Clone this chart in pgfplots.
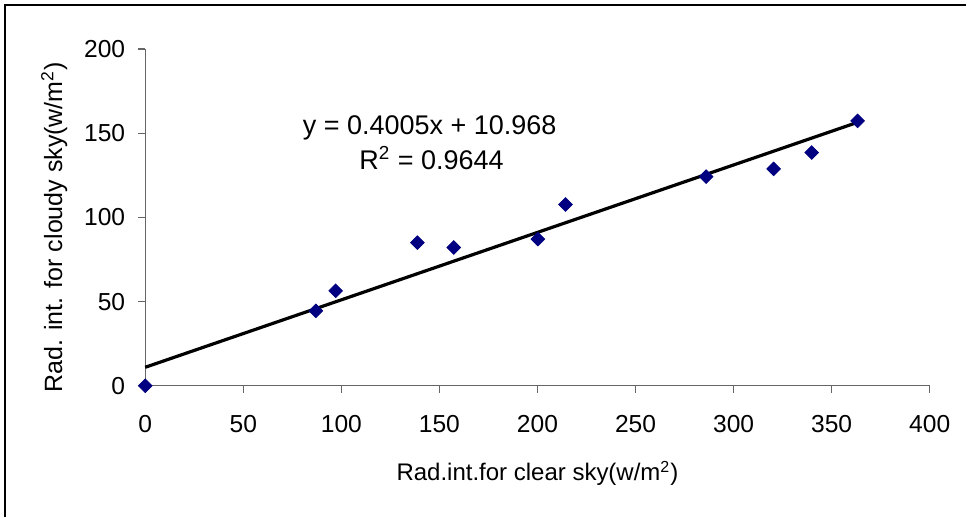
\documentclass[border=0pt]{standalone}
\usepackage{pgfplots}
\pgfplotsset{compat=1.18}
\usepackage{fontspec}
\setmainfont{Liberation Sans}
\definecolor{navy}{RGB}{0,0,128}
\begin{document}
\begin{tikzpicture}
\begin{axis}[
  at={(0,0)}, anchor=south west,
  scale only axis,
  width=392.5pt, height=168.5pt,
  xmin=0, xmax=400, ymin=0, ymax=200,
  xtick={0,50,...,400}, ytick={0,50,...,200},
  axis x line=bottom, axis y line=left,
  axis line style={-, draw=black!60, line width=0.6pt},
  tick style={draw=black!60, line width=0.6pt},
  tick align=outside, major tick length=3.5pt,
  ticklabel style={font=\fontsize{12.3}{14}\selectfont},
  /pgf/number format/assume math mode=true,
  xticklabel style={yshift=-8pt},
  yticklabel style={xshift=-3pt},
  xlabel={Rad.int.for clear sky(w/m\textsuperscript{2})},
  ylabel={Rad. int. for cloudy sky(w/m\textsuperscript{2})},
  xlabel style={font=\fontsize{12}{14}\selectfont, at={(axis description cs:0.5,-0.282)}, anchor=base},
  ylabel style={font=\fontsize{12.5}{14}\selectfont, at={(axis description cs:-0.1159,0.47)}, anchor=center, rotate=0},
  clip=false,
]
\addplot[only marks, mark=square*, mark size=2.4pt, mark options={rotate=45, fill=navy, draw=navy}]
coordinates {
(0,0) (87.0,44.5) (97.1,56.4) (138.8,85.0) (157.3,82.1) (200.2,87.1)
(214.3,107.6) (286.0,124.2) (320.4,128.8) (339.8,138.5) (363.2,157.3)
};
\addplot[black, line width=1.6pt, no marks] coordinates {(0,10.968) (363.2,156.43)};
\node[font=\fontsize{13.5}{16}\selectfont, anchor=base] at (axis cs:145,149.1) {y = 0.4005x + 10.968};
\node[font=\fontsize{13.5}{16}\selectfont, anchor=base] at (axis cs:146,128.2) {R\textsuperscript{2} = 0.9644};
\end{axis}
\draw[black, line width=0.6pt] (-70.15pt,-65.5pt) -- (-70.15pt,190.5pt) -- (410.85pt,190.5pt);
\path[use as bounding box] (-72.65pt,-65.5pt) rectangle ++(483.5pt,258.5pt);
\end{tikzpicture}
\end{document}
